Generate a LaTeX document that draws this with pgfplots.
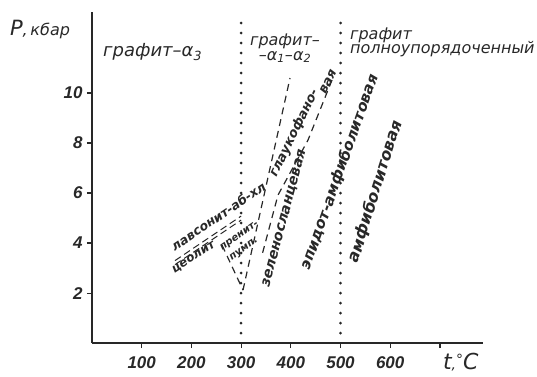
\documentclass[border=0pt]{standalone}
\usepackage{fontspec}
\setmainfont{DejaVu Sans}
\newfontfamily\tickfont{Liberation Sans}
\usepackage{pgfplots}
\pgfplotsset{compat=1.18}
\definecolor{ink}{RGB}{40,40,40}
\newcommand\lab[1]{\itshape\fontsize{#1}{#1}\selectfont}
\newcommand\blab[1]{\bfseries\itshape\fontsize{#1}{#1}\selectfont}
\begin{document}
\begin{tikzpicture}
\begin{axis}[
  scale only axis, width=391pt, height=331pt,
  xmin=0, xmax=787, ymin=0, ymax=13.24,
  axis x line=bottom, axis y line=left,
  axis line style={ink, line width=1.6pt, -},
  xtick={100,200,300,400,500,600,700},
  xticklabels={100,200,300,400,500,600,},
  ytick={2,4,6,8,10},
  tick align=outside, major tick length=5pt,
  tick style={ink, line width=1.2pt},
  /pgf/number format/assume math mode=true,
  ticklabel style={font=\tickfont\bfseries\itshape\fontsize{17}{17}\selectfont, text=ink},
  x tick label style={yshift=-5pt},
  y tick label style={xshift=-1pt},
  clip=false,
]
% vertical dotted boundaries
\addplot[ink, line width=3pt, line cap=round, dash pattern=on 0pt off 10pt] coordinates {(300,0.4) (300,12.84)};
\addplot[ink, line width=3pt, line cap=round, dash pattern=on 0pt off 10pt] coordinates {(500,0.4) (500,12.84)};
% dashed facies boundaries
\addplot[ink, line width=1.2pt, dash pattern=on 7pt off 5pt] coordinates {(303.8,2.12) (398.4,10.6)};
\addplot[ink, line width=1.2pt, dash pattern=on 7pt off 5pt] coordinates {(261.6,3.92) (303.8,2.12)};
\addplot[ink, line width=1.2pt, dash pattern=on 7pt off 5pt] coordinates {(482.9,10.52) (434.6,8.12) (374.2,5.92) (342,3.52)};
% double line under lawsonite
\addplot[ink, line width=1pt, dash pattern=on 7pt off 4pt] coordinates {(167,3.30) (300,5.08)};
\addplot[ink, line width=1pt, dash pattern=on 7pt off 4pt] coordinates {(167,3.14) (300,4.92)};

\node[text=ink, font=\lab{16}] at (axis cs:-104.6,12.52) {{\fontsize{21}{21}\selectfont P},\,кбар};
\node[text=ink, font=\lab{18}] at (axis cs:122,11.64) {графит–α\textsubscript{3}};
\node[text=ink, font=\lab{16}, align=center] at (axis cs:388.3,11.8) {графит–\\[-1pt]–α\textsubscript{1}–α\textsubscript{2}};
\node[text=ink, font=\lab{16}, align=left, anchor=west, inner sep=0pt] at (axis cs:519,12.04) {графит\\[-2pt]полноупорядоченный};

\node[text=ink, font=\blab{12.5}, rotate=34, inner sep=1pt] at (axis cs:254,5.08) {лавсонит-аб-хл};
\node[text=ink, font=\blab{12}, rotate=33, inner sep=1pt] at (axis cs:205,3.42) {цеолит};
\node[text=ink, font=\blab{10}, rotate=35, inner sep=1pt] at (axis cs:297,4.28) {пренит-};
\node[text=ink, font=\blab{10}, rotate=35, inner sep=1pt] at (axis cs:306,3.74) {пумп.};
\node[text=ink, font=\blab{13}, rotate=64, inner sep=1pt] at (axis cs:407,8.40) {глаукофано-};
\node[text=ink, font=\blab{13}, rotate=64, inner sep=1pt] at (axis cs:475,10.45) {вая};
\node[text=ink, font=\blab{14}, rotate=75, inner sep=1pt] at (axis cs:387.3,4.98) {зеленосланцевая};
\node[text=ink, font=\blab{15}, rotate=70.5, inner sep=1pt] at (axis cs:499,6.84) {эпидот-амфиболитовая};
\node[text=ink, font=\blab{16}, rotate=72.5, inner sep=1pt] at (axis cs:570.4,6.06) {амфиболитовая};
\node[text=ink, font=\lab{22}] at (axis cs:742,-0.76) {t{\fontsize{14}{14}\selectfont ,\raisebox{5pt}{°}}C};

\coordinate (bbA) at (axis cs:-185.1,-1.32);
\coordinate (bbB) at (axis cs:895.3,13.72);
\end{axis}
\pgfresetboundingbox
\useasboundingbox (bbA) rectangle (bbB);
\end{tikzpicture}
\end{document}
